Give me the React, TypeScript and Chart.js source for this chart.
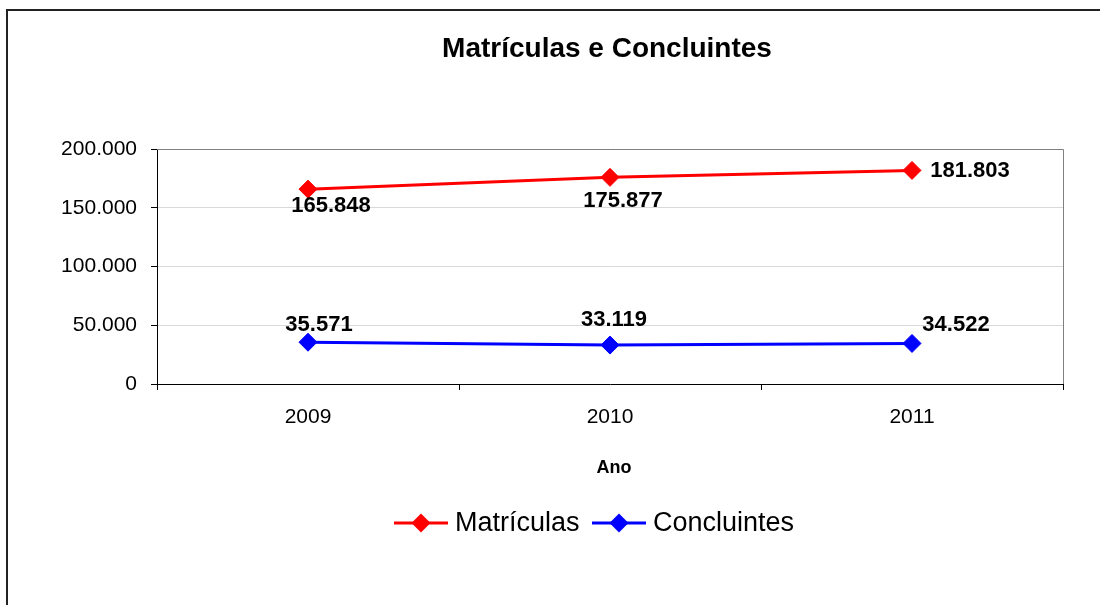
import React, { useEffect, useRef } from "react";
import { Chart, registerables } from "chart.js";

Chart.register(...registerables);

const categories = ["2009", "2010", "2011"];
const matriculas = [165848, 175877, 181803];
const concluintes = [35571, 33119, 34522];
const yTicks = [0, 50000, 100000, 150000, 200000];

const FONT = '"Liberation Sans", Arial, sans-serif';
const RED = "#FF0000";
const BLUE = "#0000FF";

// label offsets (dx, dy of text baseline) relative to each point
const labelOffsets = [
  [[23, 23], [13, 30], [58, 7]],
  [[11, -11], [4, -19], [44, -12]],
];

const fmt = (v: number) => String(Math.round(v)).replace(/\B(?=(\d{3})+(?!\d))/g, ".");

const decorPlugin = {
  id: "decor",
  beforeDraw(chart: any) {
    const ctx = chart.ctx;
    ctx.save();
    ctx.fillStyle = "#fff";
    ctx.fillRect(0, 0, chart.width, chart.height);
    ctx.strokeStyle = "#222";
    ctx.lineWidth = 2;
    ctx.strokeRect(7, 10, 1110, 620);
    ctx.restore();
  },
  beforeDatasetsDraw(chart: any) {
    const { ctx, chartArea: a } = chart;
    ctx.save();
    ctx.strokeStyle = "#808080";
    ctx.lineWidth = 1;
    ctx.beginPath();
    ctx.moveTo(a.left, a.top + 0.5);
    ctx.lineTo(a.right + 0.5, a.top + 0.5);
    ctx.lineTo(a.right + 0.5, a.bottom);
    ctx.stroke();
    ctx.restore();
  },
  afterDraw(chart: any) {
    const ctx = chart.ctx;
    const a = chart.chartArea;
    ctx.save();
    ctx.fillStyle = "#000";
    // title
    ctx.font = `bold 28px ${FONT}`;
    ctx.textAlign = "center";
    ctx.textBaseline = "alphabetic";
    ctx.fillText("Matrículas e Concluintes", 607, 57);
    // axis title
    ctx.font = `bold 18px ${FONT}`;
    ctx.fillText("Ano", (a.left + a.right) / 2 + 4, 473);
    // data labels
    ctx.font = `bold 22px ${FONT}`;
    chart.data.datasets.forEach((ds: any, di: number) => {
      const meta = chart.getDatasetMeta(di);
      meta.data.forEach((pt: any, i: number) => {
        const [dx, dy] = labelOffsets[di][i];
        ctx.fillText(fmt(ds.data[i]), pt.x + dx, pt.y + dy);
      });
    });
    // legend
    const items = [
      { label: "Matrículas", color: RED, x1: 394, x2: 448, tx: 455 },
      { label: "Concluintes", color: BLUE, x1: 592, x2: 646, tx: 653 },
    ];
    const ly = 523;
    items.forEach((it) => {
      ctx.strokeStyle = it.color;
      ctx.fillStyle = it.color;
      ctx.lineWidth = 3;
      ctx.beginPath();
      ctx.moveTo(it.x1, ly);
      ctx.lineTo(it.x2, ly);
      ctx.stroke();
      const cx = (it.x1 + it.x2) / 2;
      const r = 9.5;
      ctx.beginPath();
      ctx.moveTo(cx - r, ly);
      ctx.lineTo(cx, ly - r);
      ctx.lineTo(cx + r, ly);
      ctx.lineTo(cx, ly + r);
      ctx.closePath();
      ctx.fill();
      ctx.fillStyle = "#000";
      ctx.font = `27px ${FONT}`;
      ctx.textAlign = "left";
      ctx.textBaseline = "alphabetic";
      ctx.fillText(it.label, it.tx, 531);
    });
    ctx.restore();
  },
};

export default function App() {
  const ref = useRef<HTMLCanvasElement>(null);
  useEffect(() => {
    if (!ref.current) return;
    const chart = new Chart(ref.current, {
      type: "line",
      data: {
        labels: categories,
        datasets: [
          {
            label: "Matrículas",
            data: matriculas,
            borderColor: RED,
            backgroundColor: RED,
            borderWidth: 3,
            pointStyle: "rectRot",
            pointRadius: 9,
            pointBorderWidth: 1,
            pointBackgroundColor: RED,
            pointBorderColor: RED,
            tension: 0,
          },
          {
            label: "Concluintes",
            data: concluintes,
            borderColor: BLUE,
            backgroundColor: BLUE,
            borderWidth: 3,
            pointStyle: "rectRot",
            pointRadius: 9,
            pointBorderWidth: 1,
            pointBackgroundColor: BLUE,
            pointBorderColor: BLUE,
            tension: 0,
          },
        ],
      },
      options: {
        responsive: false,
        animation: false,
        devicePixelRatio: 1,
        layout: { padding: { left: 0, right: 37, top: 149, bottom: 0 } },
        plugins: {
          legend: { display: false },
          title: { display: false },
          tooltip: { enabled: false },
        },
        scales: {
          x: {
            offset: true,
            afterFit: (s: any) => {
              s.height = 221;
            },
            grid: {
              offset: true,
              drawOnChartArea: false,
              drawTicks: true,
              tickLength: 6,
              tickColor: "#000",
            },
            border: { color: "#000", width: 1 },
            ticks: {
              color: "#000",
              font: { family: FONT, size: 21 },
              padding: 15,
            },
          },
          y: {
            min: 0,
            max: 200000,
            afterFit: (s: any) => {
              s.width = 157;
            },
            afterBuildTicks: (s: any) => {
              s.ticks = yTicks.map((v) => ({ value: v }));
            },
            grid: {
              color: "#d9d9d9",
              tickLength: 6,
              tickColor: "#000",
            },
            border: { color: "#000", width: 1 },
            ticks: {
              color: "#000",
              font: { family: FONT, size: 21 },
              padding: 14,
              callback: (v: any) => fmt(Number(v)),
            },
          },
        },
      },
      plugins: [decorPlugin],
    });
    return () => chart.destroy();
  }, []);
  return (
    <div style={{ position: "absolute", left: 0, top: 0, width: 1100, height: 605 }}>
      <canvas ref={ref} width={1100} height={605} style={{ display: "block" }} />
    </div>
  );
}
